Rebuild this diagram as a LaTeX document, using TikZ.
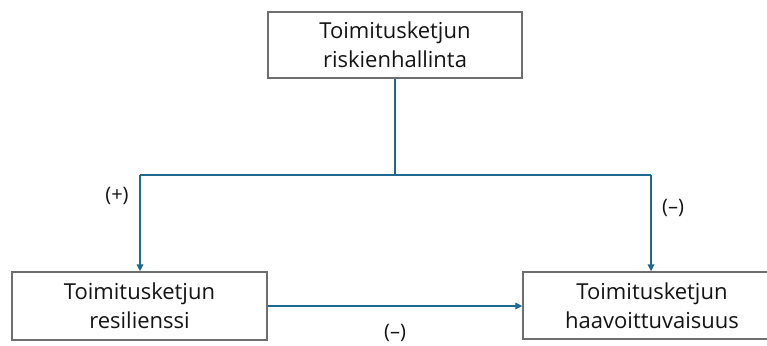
\documentclass[tikz,border=0pt]{standalone}
\usepackage{fontspec}
\setmainfont{Open Sans}
\usetikzlibrary{arrows.meta}
\definecolor{linkblue}{RGB}{31,104,143}
\definecolor{boxgray}{RGB}{110,110,110}
\definecolor{txt}{RGB}{20,20,20}
\tikzset{
  box/.style={draw=boxgray, line width=1.3pt, fill=white, inner sep=0pt, align=center,
    text=txt, font=\fontsize{22}{29}\selectfont},
  link/.style={draw=linkblue, line width=1.6pt, -{Triangle[length=7pt,width=6.5pt]}},
  plainlink/.style={draw=linkblue, line width=1.6pt},
  sign/.style={font=\fontsize{20}{24}\selectfont, text=txt, inner sep=0pt},
}
\begin{document}
\begin{tikzpicture}[x=1pt,y=-1pt]
\useasboundingbox (0,0) rectangle (767,345);
\begin{scope}
\clip (0,0) rectangle (767,345);
\node[box, minimum width=254pt, minimum height=66pt] (top) at (395,45) {Toimitusketjun\\riskienhallinta};
\node[box, minimum width=255pt, minimum height=68pt] (res) at (139.5,306) {Toimitusketjun\\resilienssi};
\node[box, minimum width=258pt, minimum height=67pt] (haa) at (652,305.5) {Toimitusketjun\\haavoittuvaisuus};
\end{scope}
\coordinate (split) at (395,175);
\coordinate (leftc) at (140,175);
\coordinate (rightc) at (651,175);
\draw[plainlink] (top.south) -- (split);
\draw[plainlink] (leftc) -- (rightc);
\draw[link] (leftc) -- (leftc |- res.north);
\draw[link] (rightc) -- (rightc |- haa.north);
\draw[link] (res.east |- 0,306) -- (haa.west |- 0,306);
\node[sign] (plus) at (117,196) {(+)};
\node[sign] (minr) at (673,208) {(–)};
\node[sign] (minb) at (395,333) {(–)};
\end{tikzpicture}
\end{document}
